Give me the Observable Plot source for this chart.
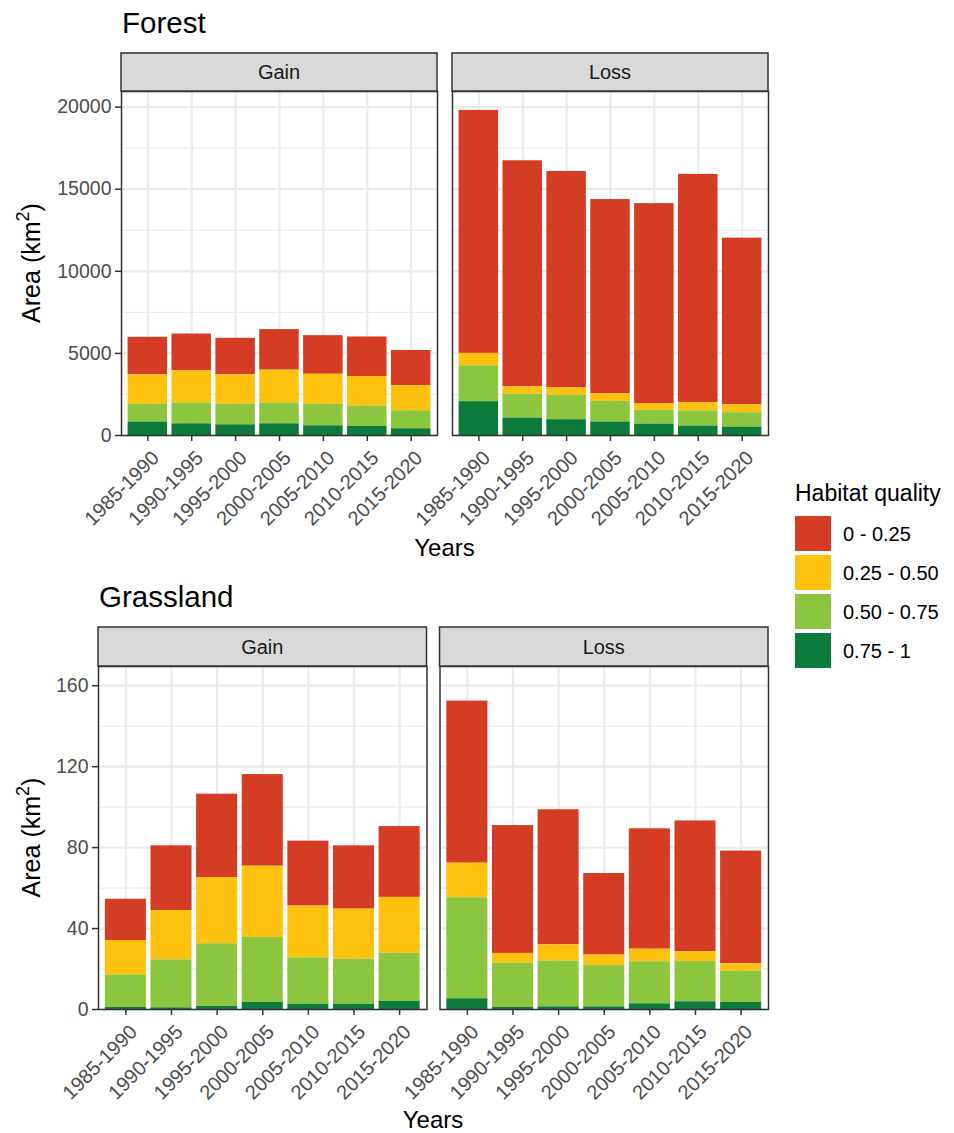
<!DOCTYPE html>
<html>
<head>
<meta charset="utf-8">
<script src="https://cdn.jsdelivr.net/npm/d3@7"></script>
<script src="https://cdn.jsdelivr.net/npm/@observablehq/plot@0.6"></script>
<style>
  body { margin: 0; background: #fff; }
  #chart { position: relative; width: 954px; height: 1133px; overflow: hidden; background: #fff;
           font-family: "Liberation Sans", Arial, Helvetica, sans-serif; }
  #chart > svg { position: absolute; left: 0; }
  #overlay { top: 0; pointer-events: none; }
</style>
</head>
<body>
<div id="chart"></div>
<script>
// Five-year change periods on the x axis
const periods = ["1985-1990", "1990-1995", "1995-2000", "2000-2005", "2005-2010", "2010-2015", "2015-2020"];
// Habitat quality classes (legend order) and their fills
const qualities = ["0 - 0.25", "0.25 - 0.50", "0.50 - 0.75", "0.75 - 1"];
const qualityColors = ["#d53c24", "#fec20e", "#8cc63f", "#0c7a3a"];
// Facet panels
const changeTypes = ["Gain", "Loss"];

// Forest area (km²) per period, one array per habitat quality class
const forestGainQ0 = [2290, 2240, 2230, 2470, 2350, 2410, 2140];   // 0 - 0.25
const forestGainQ1 = [1790, 1960, 1790, 2000, 1830, 1810, 1530];   // 0.25 - 0.50
const forestGainQ2 = [1080, 1270, 1250, 1270, 1310, 1230, 1100];   // 0.50 - 0.75
const forestGainQ3 = [820, 710, 650, 710, 590, 550, 410];          // 0.75 - 1

const forestLossQ0 = [14800, 13770, 13180, 11820, 12200, 13900, 10160];
const forestLossQ1 = [760, 450, 450, 470, 390, 510, 470];
const forestLossQ2 = [2180, 1450, 1490, 1260, 840, 920, 880];
const forestLossQ3 = [2060, 1060, 960, 820, 690, 570, 510];

// Grassland area (km²) per period, one array per habitat quality class
const grassGainQ0 = [20.4, 32.0, 41.2, 45.3, 32.1, 31.3, 35.0];
const grassGainQ1 = [17.0, 24.4, 32.7, 35.2, 25.6, 24.7, 27.6];
const grassGainQ2 = [16.1, 23.7, 31.0, 32.1, 22.9, 22.3, 23.8];
const grassGainQ3 = [1.0, 0.8, 1.5, 3.5, 2.6, 2.6, 4.0];

const grassLossQ0 = [80.1, 63.2, 66.7, 40.3, 59.5, 64.7, 55.7];
const grassLossQ1 = [17.1, 4.8, 8.1, 5.2, 6.2, 4.8, 3.7];
const grassLossQ2 = [49.9, 21.9, 22.6, 20.4, 20.8, 19.9, 15.4];
const grassLossQ3 = [5.3, 1.0, 1.3, 1.3, 2.8, 3.8, 3.5];

// Y axis ticks and limits
const forestTicks = [0, 5000, 10000, 15000, 20000];
const forestMinor = [2500, 7500, 12500, 17500];
const forestMax = 20950;
const grassTicks = [0, 40, 80, 120, 160];
const grassMinor = [20, 60, 100, 140];
const grassMax = 169.5;

// Long table: one row per panel × period × quality class
function toRows(type, byClass) {
  return periods.flatMap((period, i) =>
    qualities.map((quality, k) => ({type, period, quality, area: byClass[k][i]})));
}
const forestRows = [
  ...toRows("Gain", [forestGainQ0, forestGainQ1, forestGainQ2, forestGainQ3]),
  ...toRows("Loss", [forestLossQ0, forestLossQ1, forestLossQ2, forestLossQ3])
];
const grassRows = [
  ...toRows("Gain", [grassGainQ0, grassGainQ1, grassGainQ2, grassGainQ3]),
  ...toRows("Loss", [grassLossQ0, grassLossQ1, grassLossQ2, grassLossQ3])
];

// Highest quality sits at the bottom of each stack
const stackOrder = qualities.slice().reverse();

const FONT = '"Liberation Sans", Arial, Helvetica, sans-serif';
const rowWidth = 780, marginRight = 12;

function facetRow({rows, yMax, yTicks, yMinor, marginLeft, panelGap, marginTop, panelHeight, marginBottom}) {
  const inner = rowWidth - marginLeft - marginRight;
  const panelWidth = (inner - panelGap) / 2;
  const plot = Plot.plot({
    width: rowWidth,
    height: marginTop + panelHeight + marginBottom,
    marginTop, marginBottom, marginLeft, marginRight,
    style: {background: "transparent", fontFamily: FONT, overflow: "visible"},
    fx: {domain: changeTypes, paddingInner: panelGap / (panelWidth + panelGap), paddingOuter: 0, axis: null, round: false},
    x: {domain: periods, paddingInner: 0.1, paddingOuter: 0.15, round: false, axis: null},
    y: {domain: [0, yMax], axis: null},
    color: {domain: qualities, range: qualityColors},
    marks: [
      Plot.ruleY(yMinor, {stroke: "#ebebeb", strokeWidth: 1.1}),
      Plot.ruleY(yTicks, {stroke: "#ebebeb", strokeWidth: 2.2}),
      Plot.gridX({stroke: "#ebebeb", strokeOpacity: 1, strokeWidth: 2.2}),
      Plot.barY(rows, Plot.stackY({fx: "type", x: "period", y: "area", fill: "quality", order: stackOrder})),
      Plot.frame({stroke: "#333", strokeWidth: 1.5}),
      Plot.axisY({ticks: yTicks, tickFormat: d => String(d), tickSize: 6, tickPadding: 4,
                  fontSize: 19.5, fill: "#4d4d4d", stroke: "#333", strokeWidth: 1.5, label: null}),
      // x tick marks
      Plot.axisX({tickSize: 6, tickFormat: () => "", stroke: "#333", strokeWidth: 1.5, label: null}),
      // rotated x tick labels, right-top aligned under each tick
      Plot.axisX({tickSize: 0, tickPadding: 10, tickRotate: -45, fontSize: 20, dx: 8, dy: 9,
                  fill: "#4d4d4d", label: null})
    ]
  });
  return {plot, panelWidth};
}

const chart = document.getElementById("chart");

// Forest row: strips 53–91, panels 91–435
const forest = facetRow({rows: forestRows, yMax: forestMax, yTicks: forestTicks, yMinor: forestMinor,
  marginLeft: 121, panelGap: 15, marginTop: 38, panelHeight: 344, marginBottom: 130});
forest.plot.style.top = "53px";
chart.appendChild(forest.plot);

// Grassland row: strips 627–666, panels 666–1009
const grass = facetRow({rows: grassRows, yMax: grassMax, yTicks: grassTicks, yMinor: grassMinor,
  marginLeft: 98, panelGap: 13, marginTop: 39, panelHeight: 343, marginBottom: 124});
grass.plot.style.top = "627px";
chart.appendChild(grass.plot);

// Titles, facet strips, axis titles and legend
const svg = d3.select(chart).append("svg").attr("id", "overlay")
  .attr("width", 954).attr("height", 1133)
  .style("font-family", FONT);

const sections = [
  {title: "Forest", titleX: 122, titleY: 33, left: 121, stripTop: 53, stripH: 38, panelWidth: forest.panelWidth, gap: 15,
   panelTop: 91, panelBottom: 435, yearsY: 556},
  {title: "Grassland", titleX: 99, titleY: 607, left: 98, stripTop: 627, stripH: 39, panelWidth: grass.panelWidth, gap: 13,
   panelTop: 666, panelBottom: 1009, yearsY: 1128}
];

for (const s of sections) {
  svg.append("text").attr("x", s.titleX).attr("y", s.titleY)
    .attr("font-size", 29.5).attr("fill", "#000").text(s.title);

  changeTypes.forEach((t, i) => {
    const x = s.left + i * (s.panelWidth + s.gap);
    svg.append("rect").attr("x", x).attr("y", s.stripTop)
      .attr("width", s.panelWidth).attr("height", s.stripH)
      .attr("fill", "#d9d9d9").attr("stroke", "#333").attr("stroke-width", 1.5);
    svg.append("text").attr("x", x + s.panelWidth / 2).attr("y", s.stripTop + s.stripH / 2 + 7)
      .attr("text-anchor", "middle").attr("font-size", 20).attr("fill", "#1a1a1a").text(t);
  });

  // y axis title with superscript
  const cy = (s.panelTop + s.panelBottom) / 2;
  const yt = svg.append("text").attr("transform", `translate(40,${cy}) rotate(-90)`)
    .attr("text-anchor", "middle").attr("font-size", 25).attr("fill", "#000");
  yt.append("tspan").text("Area (km");
  yt.append("tspan").attr("font-size", 18).attr("dy", "-0.6em").text("2");
  yt.append("tspan").attr("dy", "0.42em").text(")");

  // x axis title centred under both panels
  const xc = s.left + s.panelWidth + s.gap / 2;
  svg.append("text").attr("x", xc).attr("y", s.yearsY)
    .attr("text-anchor", "middle").attr("font-size", 24).attr("fill", "#000").text("Years");
}

// Legend
const legend = svg.append("g");
legend.append("text").attr("x", 795).attr("y", 501).attr("font-size", 23).attr("fill", "#000").text("Habitat quality");
qualities.forEach((q, i) => {
  const y = 516 + i * 39;
  legend.append("rect").attr("x", 795).attr("y", y).attr("width", 36).attr("height", 35).attr("fill", qualityColors[i]);
  legend.append("text").attr("x", 843).attr("y", y + 17.5 + 7).attr("font-size", 20).attr("fill", "#000").text(q);
});
</script>
</body>
</html>
